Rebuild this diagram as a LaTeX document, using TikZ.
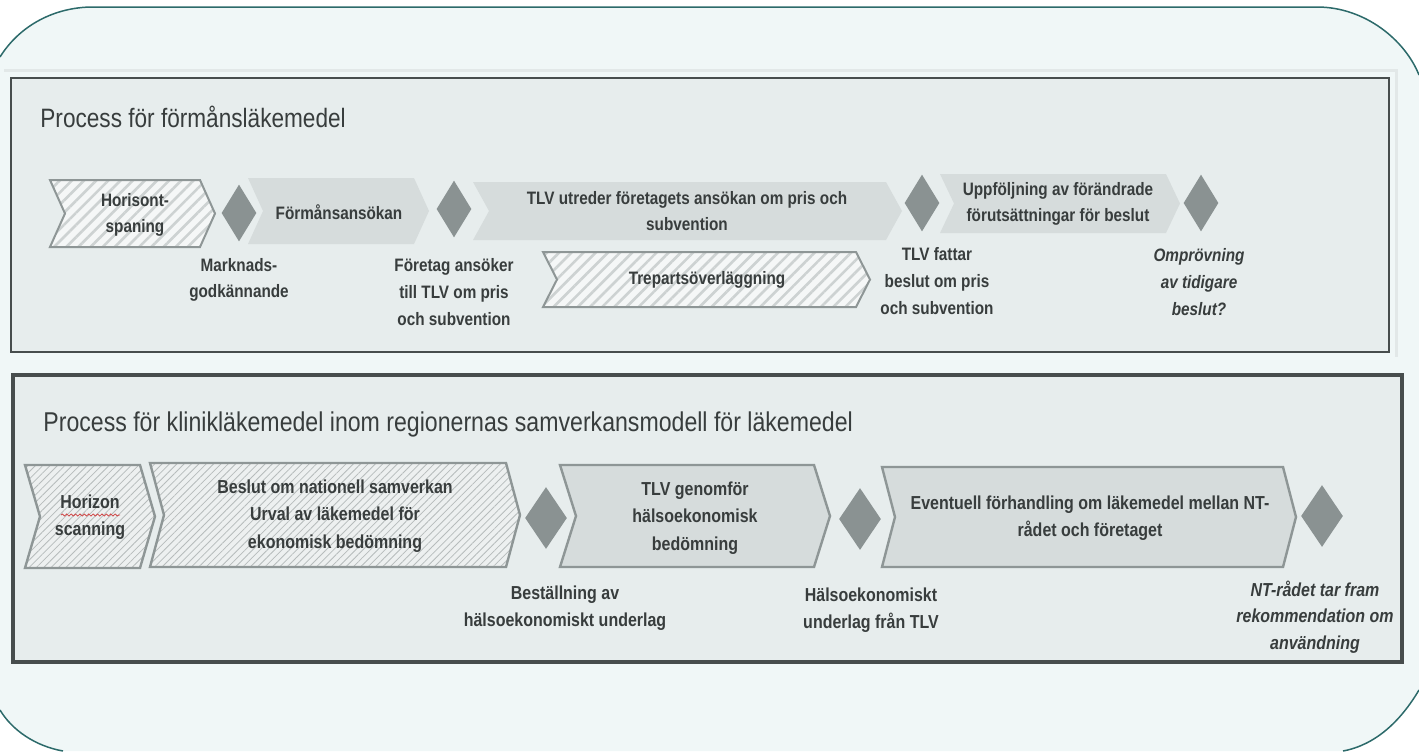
\documentclass[tikz,border=0pt]{standalone}
\usepackage{fontspec}
\setmainfont{Liberation Sans}[FakeStretch=0.85]
\usetikzlibrary{shapes.geometric,patterns.meta,decorations.pathmorphing}

\definecolor{sheet}{HTML}{F0F7F7}
\definecolor{rim}{HTML}{2C6A6A}
\definecolor{panelbg}{HTML}{E7EDED}
\definecolor{frame}{HTML}{474D4D}
\definecolor{faint}{HTML}{E2E8E8}
\definecolor{stepgray}{HTML}{D6DCDC}
\definecolor{edgegray}{HTML}{8E9696}
\definecolor{gategray}{HTML}{8A9292}
\definecolor{ink}{HTML}{383D3D}
\definecolor{hatchbg}{HTML}{F5F7F7}
\definecolor{hatchline}{HTML}{CDD2D2}
\definecolor{hatchbgB}{HTML}{EDF0F0}
\definecolor{hatchlineB}{HTML}{B6BCBC}
\definecolor{spell}{HTML}{D04848}

% left x, tip x, top y, bottom y, notch depth
\newcommand{\chevron}[6][]{%
  \path[#1] (#2,#4) -- ({#3-#6},#4) -- (#3,{(#4+#5)/2}) -- ({#3-#6},#5)
    -- (#2,#5) -- ({#2+#6},{(#4+#5)/2}) -- cycle;}

\begin{document}
\begin{tikzpicture}[
  x=0.5pt, y=-0.5pt,
  every node/.style={text=ink, align=center, inner sep=0pt},
  heading/.style={font=\fontsize{13.3}{16}\selectfont, anchor=base west},
  headingB/.style={font=\fontsize{13.6}{16}\selectfont, anchor=base west},
  label/.style={font=\bfseries\fontsize{9}{13.3}\selectfont},
  labelB/.style={font=\bfseries\fontsize{9.4}{13.6}\selectfont},
  ask/.style={font=\bfseries\itshape\fontsize{9}{13.3}\selectfont},
  askB/.style={font=\bfseries\itshape\fontsize{9.4}{13.3}\selectfont},
  panel/.style={fill=panelbg, draw=frame},
  stepfill/.style={fill=stepgray},
  steprim/.style={fill=stepgray, draw=edgegray, line width=1.2pt},
  hatchA/.style={preaction={fill=hatchbg},
    pattern={Lines[angle=45,distance=4.3pt,line width=1.3pt]},
    pattern color=hatchline, draw=edgegray, line width=1pt},
  hatchB/.style={preaction={fill=hatchbgB},
    pattern={Lines[angle=45,distance=2.6pt,line width=0.4pt]},
    pattern color=hatchlineB, draw=edgegray, line width=1.2pt},
  gate/.style={diamond, fill=gategray, minimum width=17.5pt,
    minimum height=28.5pt, inner sep=0pt},
  gateB/.style={gate, minimum width=21pt, minimum height=31pt}
  ]
  \useasboundingbox (0,0) rectangle (1419,751);

  % background sheet
  \fill[sheet] (0,57) .. controls (20,25) and (55,7) .. (93,7) -- (1317,7)
    .. controls (1365,7) and (1405,40) .. (1419,75) -- (1419,690)
    .. controls (1400,722) and (1375,745) .. (1343,751) -- (63,751)
    .. controls (35,746) and (12,730) .. (0,710) -- cycle;
  \draw[rim, line width=0.75pt] (0,57) .. controls (20,25) and (55,7) .. (93,7)
    -- (1317,7) .. controls (1365,7) and (1405,40) .. (1419,75);
  \draw[rim, line width=0.75pt] (1419,690) .. controls (1400,722) and (1375,745) .. (1343,751);
  \draw[rim, line width=0.75pt] (63,751) .. controls (35,746) and (12,730) .. (0,710);
  \draw[faint, line width=1.5pt] (4,70) -- (1396,70) -- (1396,357);

  % Process for formanslakemedel
  \draw[panel, line width=1.3pt] (11,78) rectangle (1389,352);
  \node[heading] (title1) at (40,127) {Process för förmånsläkemedel};

  \chevron[hatchA]{50}{215}{180}{247}{15}
  \chevron[stepfill]{248}{429}{178}{244}{15}
  \chevron[stepfill]{473}{902}{182}{240}{16}
  \chevron[hatchA]{543}{870}{252}{307}{14}
  \chevron[stepfill]{940}{1180}{174}{233}{14}

  \node[gate] (g1) at (239,213) {};
  \node[gate] (g2) at (454,209) {};
  \node[gate] (g3) at (922,203) {};
  \node[gate] (g4) at (1201,203) {};

  \node[label] (horisont) at (135,215) {Horisont-\\spaning};
  \node[label] (ansokan) at (339,212) {Förmånsansökan};
  \node[label] (utreder) at (687,211) {TLV utreder företagets ansökan om pris och\\subvention};
  \node[label] (trepart) at (707,280) {Trepartsöverläggning};
  \node[label] (uppfoljning) at (1058,204) {Uppföljning av förändrade\\förutsättningar för beslut};

  \node[label] (marknad) at (239,280) {Marknads-\\godkännande};
  \node[label] (foretag) at (454,292) {Företag ansöker\\till TLV om pris\\och subvention};
  \node[label] (fattar) at (937,281) {TLV fattar\\beslut om pris\\och subvention};
  \node[ask] (omprov) at (1199,282) {Omprövning\\av tidigare\\beslut?};

  % Process for klinliklakemedel
  \draw[panel, line width=1.8pt] (13,375) rectangle (1402,662);
  \node[headingB] (title2) at (43,431) {Process för klinikläkemedel inom regionernas samverkansmodell för läkemedel};

  \chevron[hatchB]{25}{155}{465}{568}{15}
  \chevron[hatchB]{150}{520}{463}{567}{14}
  \chevron[steprim]{560}{830}{465}{567}{16}
  \chevron[steprim]{882}{1296}{467}{567}{13}

  \node[gateB] (g5) at (546,518) {};
  \node[gateB] (g6) at (860,519) {};
  \node[gateB] (g7) at (1322,516) {};

  \node[labelB] (horizon) at (90,517) {Horizon\\scanning};
  \draw[spell, line width=0.4pt, decorate,
    decoration={snake, amplitude=0.5pt, segment length=2.2pt}] (61,515) -- (120,515);
  \node[labelB] (urval) at (335,516) {Beslut om nationell samverkan\\Urval av läkemedel för\\ekonomisk bedömning};
  \node[labelB] (genomfor) at (695,518) {TLV genomför\\hälsoekonomisk\\bedömning};
  \node[labelB] (forhandling) at (1090,518) {Eventuell förhandling om läkemedel mellan NT-\\rådet och företaget};

  \node[labelB] (bestallning) at (565,608) {Beställning av\\hälsoekonomiskt underlag};
  \node[labelB] (underlag) at (871,610) {Hälsoekonomiskt\\underlag från TLV};
  \node[askB] (rekommend) at (1315,617) {NT-rådet tar fram\\rekommendation om\\användning};
\end{tikzpicture}
\end{document}
